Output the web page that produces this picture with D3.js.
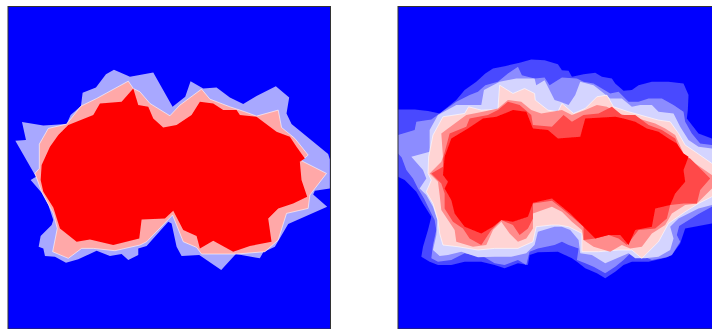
<!DOCTYPE html>
<html>
<head>
<meta charset="utf-8">
<script src="https://cdn.jsdelivr.net/npm/d3@7"></script>
<style>
  html, body { margin: 0; padding: 0; background: #fff; overflow: hidden; }
  svg { display: block; }
</style>
</head>
<body>
<div id="chart"></div>
<script>
// Contour bands, outermost first
const leftLight = [[46,422],[78,420],[66,366],[130,376],[200,372],[212,345],[243,318],[248,278],[288,262],[318,222],[342,209],[380,225],[390,230],[460,217],[518,320],[556,290],[572,243],[610,265],[650,262],[690,292],[730,312],[770,288],[828,258],[868,292],[860,340],[875,372],[985,462],[990,478],[990,565],[945,572],[940,583],[982,620],[865,672],[825,740],[790,757],[780,775],[708,762],[664,810],[598,765],[545,768],[530,740],[515,670],[505,665],[440,738],[415,745],[415,765],[385,780],[365,762],[330,768],[290,752],[235,778],[198,788],[165,770],[135,768],[130,745],[116,740],[122,708],[155,675],[160,660],[145,615],[125,578],[92,540],[108,530]];
const leftPink = [[118,432],[145,385],[200,372],[243,318],[290,295],[385,243],[400,265],[420,275],[450,310],[510,347],[540,315],[605,267],[630,297],[690,320],[735,335],[770,348],[835,330],[845,382],[885,415],[925,465],[905,482],[980,520],[930,585],[925,625],[860,640],[835,720],[795,755],[710,762],[605,762],[590,742],[550,725],[518,645],[440,725],[420,735],[345,752],[280,745],[245,745],[205,775],[158,755],[172,685],[160,640],[125,575],[105,520],[118,505]];
const leftRed = [[125,495],[150,440],[175,405],[205,375],[280,345],[300,310],[365,305],[400,265],[415,315],[445,320],[460,355],[490,382],[530,375],[575,345],[600,305],[640,310],[670,330],[710,330],[720,345],[770,350],[830,395],[870,410],[890,440],[915,475],[900,485],[905,540],[922,590],[880,610],[835,625],[805,655],[815,725],[750,738],[700,755],[640,722],[600,745],[590,708],[550,690],[520,632],[495,655],[425,658],[418,715],[340,735],[270,718],[230,725],[180,685],[160,622],[130,575],[122,540]];

const rightBand1 = [[24,328],[74,328],[114,333],[149,340],[199,300],[224,270],[259,245],[286,220],[309,205],[344,198],[389,188],[424,178],[464,180],[504,192],[516,210],[536,212],[546,230],[581,222],[616,218],[636,230],[666,235],[676,250],[701,272],[726,270],[746,255],[786,245],[836,245],[881,250],[896,285],[894,330],[891,355],[926,400],[966,415],[992,430],[992,665],[966,670],[886,685],[871,730],[846,765],[821,775],[776,785],[726,785],[701,795],[676,815],[646,835],[621,820],[586,805],[561,785],[546,775],[504,755],[444,757],[419,765],[414,795],[384,790],[344,805],[314,795],[274,785],[224,785],[184,795],[144,795],[119,785],[94,770],[99,740],[114,690],[124,650],[99,610],[79,575],[44,540],[24,530]];
const rightBand2 = [[24,405],[74,390],[79,365],[124,358],[149,340],[199,305],[239,285],[264,275],[286,255],[324,245],[354,220],[384,200],[396,225],[434,235],[464,232],[479,255],[516,232],[561,235],[581,245],[611,250],[636,265],[661,280],[686,275],[716,305],[746,305],[776,295],[816,295],[851,315],[881,335],[886,365],[906,400],[931,430],[966,435],[992,437],[992,612],[966,620],[926,642],[868,678],[861,705],[871,725],[846,765],[831,772],[786,780],[726,755],[701,780],[676,800],[646,820],[611,800],[586,790],[561,780],[566,745],[536,735],[516,725],[494,735],[444,745],[419,755],[409,795],[384,780],[344,795],[314,790],[284,772],[224,760],[184,780],[144,785],[124,775],[129,735],[139,690],[134,660],[124,640],[102,595],[84,565],[69,535],[49,510],[35,472],[24,460]];
const rightBand3 = [[64,470],[119,455],[119,390],[144,345],[199,315],[274,315],[282,270],[329,245],[379,235],[434,235],[439,255],[464,240],[494,300],[511,305],[536,315],[556,285],[571,245],[611,255],[636,275],[661,295],[696,295],[726,320],[751,315],[786,315],[806,335],[851,340],[871,380],[896,420],[926,440],[966,445],[992,455],[992,610],[966,615],[926,625],[866,655],[841,680],[851,715],[841,750],[806,770],[766,775],[736,775],[716,760],[681,775],[646,790],[606,765],[571,760],[566,720],[541,690],[516,680],[494,680],[444,695],[434,735],[409,760],[364,770],[314,770],[264,772],[214,755],[174,765],[149,768],[129,750],[139,705],[142,660],[129,620],[109,585],[89,565],[109,535],[99,510]];
const rightBand4 = [[114,520],[116,470],[129,405],[159,350],[224,340],[236,320],[274,330],[324,328],[329,255],[369,280],[404,265],[434,280],[436,300],[474,330],[504,335],[516,310],[551,340],[586,325],[621,290],[651,285],[671,320],[716,335],[806,360],[841,365],[866,400],[886,435],[916,455],[966,490],[992,510],[992,580],[966,590],[926,610],[886,635],[836,670],[806,725],[756,775],[726,750],[686,750],[626,755],[576,755],[576,700],[536,680],[506,675],[484,675],[439,680],[429,725],[384,745],[314,745],[264,750],[204,740],[159,735],[149,700],[144,660],[129,610],[109,575],[124,540]];
const rightBand5 = [[119,520],[154,485],[159,470],[154,400],[174,385],[229,345],[279,335],[324,325],[354,300],[394,305],[424,330],[454,340],[486,335],[516,330],[546,345],[586,330],[621,315],[651,320],[686,340],[746,355],[796,370],[826,385],[856,405],[881,460],[916,490],[966,525],[992,540],[921,610],[886,615],[846,640],[826,675],[786,700],[756,740],[721,745],[696,735],[661,755],[611,740],[581,720],[576,690],[546,665],[516,635],[486,620],[429,640],[429,685],[409,715],[384,725],[359,700],[334,665],[309,690],[289,735],[249,740],[199,725],[194,690],[174,660],[154,630],[149,585],[144,545]];
const rightBand6 = [[124,520],[159,500],[159,475],[179,400],[229,380],[239,355],[294,345],[324,330],[354,305],[389,315],[424,345],[429,375],[486,380],[506,360],[521,345],[546,365],[581,345],[626,340],[666,320],[696,345],[736,345],[776,375],[816,390],[856,415],[876,465],[901,475],[961,535],[931,570],[921,610],[881,610],[841,615],[831,655],[796,685],[746,690],[711,735],[686,715],[656,705],[616,715],[581,720],[581,680],[546,650],[516,625],[486,602],[429,610],[429,655],[414,685],[389,705],[369,675],[334,660],[304,690],[274,735],[239,715],[219,685],[189,665],[164,625],[164,580],[154,550]];
const rightRed = [[159,525],[164,470],[184,415],[234,385],[279,355],[319,350],[369,330],[409,335],[429,385],[474,390],[504,415],[571,410],[586,355],[676,350],[701,355],[736,365],[771,385],[806,395],[836,415],[861,430],[881,460],[896,470],[881,510],[886,545],[856,580],[841,615],[796,625],[786,680],[736,690],[716,735],[691,705],[656,705],[616,715],[576,675],[541,640],[486,595],[429,608],[414,650],[369,665],[334,660],[309,680],[274,700],[224,680],[194,640],[184,600],[164,565],[174,545]];

const leftBands = [leftLight, leftPink, leftRed];
const leftColors = ["#a8a8ff", "#ffa8a8", "#ff0000"];
const rightBands = [rightBand1, rightBand2, rightBand3, rightBand4, rightBand5, rightBand6, rightRed];
const rightColors = ["#4848ff", "#8c8cff", "#d4d4ff", "#ffd4d4", "#ff8c8c", "#ff4848", "#ff0000"];

const xDomain = [24, 992];
const yDomain = [19, 987];
const panelSize = 322.5;

const svg = d3.select("#chart").append("svg")
  .attr("width", 712)
  .attr("height", 329);

const defs = svg.append("defs");
defs.append("filter").attr("id", "soft")
  .append("feGaussianBlur").attr("stdDeviation", 0.4);

function drawPanel(id, left, bands, colors, whiteBand) {
  const x = d3.scaleLinear().domain(xDomain).range([0, panelSize]);
  const y = d3.scaleLinear().domain(yDomain).range([0, panelSize]);
  const line = d3.line().x(d => x(d[0])).y(d => y(d[1])).curve(d3.curveLinearClosed);

  const g = svg.append("g").attr("transform", "translate(" + left + ",6.5)");

  defs.append("clipPath").attr("id", id)
    .append("rect").attr("width", panelSize).attr("height", panelSize);

  const inner = g.append("g").attr("clip-path", "url(#" + id + ")");
  inner.append("rect")
    .attr("width", panelSize)
    .attr("height", panelSize)
    .attr("fill", "#0000ff");

  inner.append("g").attr("filter", "url(#soft)")
    .selectAll("path")
    .data(bands)
    .enter().append("path")
    .attr("d", line)
    .attr("fill", (d, i) => colors[i])
    .attr("stroke", (d, i) => i === whiteBand ? "#fff" : "none")
    .attr("stroke-width", 0.6);

  g.append("rect")
    .attr("width", panelSize)
    .attr("height", panelSize)
    .attr("fill", "none")
    .attr("stroke", "#333")
    .attr("stroke-width", 1);
}

drawPanel("clip-left", 8, leftBands, leftColors, 1);
drawPanel("clip-right", 398, rightBands, rightColors, 3);
</script>
</body>
</html>
